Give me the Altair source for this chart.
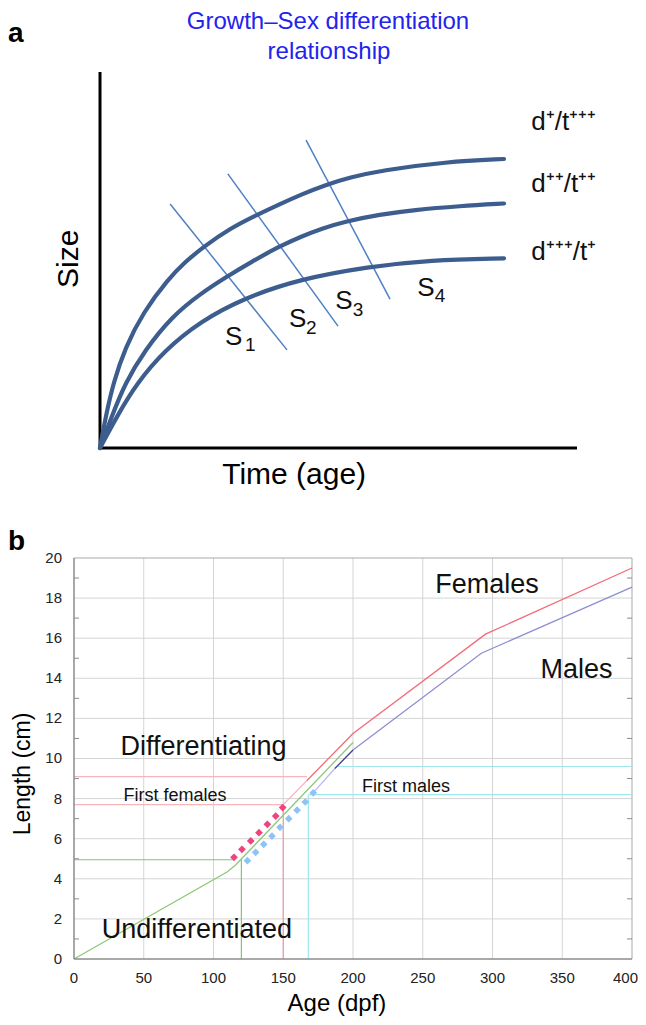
import altair as alt
import pandas as pd

# ================= Panel a : conceptual growth curves =================
curve_top_t = [0, 1.26, 2.79, 5.24, 9.08, 14.32, 17.82, 21.66, 27.25, 32.85, 37.74, 41.93, 47.17, 52.41,
               58.70, 72.68, 84.70]
curve_top_s = [0, 8.78, 17.29, 26.60, 36.17, 44.95, 49.47, 53.46, 58.38, 61.97, 64.89, 67.29, 69.95, 71.94,
               73.80, 76.14, 76.86]
curve_mid_t = [0, 2.45, 5.24, 9.43, 15.03, 20.96, 26.56, 31.87, 37.38, 41.93, 46.54, 51.36, 58.70, 65.68,
               75.47, 84.70]
curve_mid_s = [0, 8.32, 17.21, 26.06, 34.92, 40.96, 45.56, 49.60, 53.46, 56.12, 58.38, 60.24, 62.10, 63.30,
               64.36, 65.03]
curve_bot_t = [0, 3.50, 7.69, 13.63, 20.96, 30.04, 41.93, 56.25, 69.18, 84.70]
curve_bot_s = [0, 8.32, 17.21, 26.06, 33.59, 39.81, 44.95, 48.22, 50.00, 50.45]

sline_t1 = [14.7, 26.8, 43.2]
sline_s1 = [64.9, 72.9, 81.9]
sline_t2 = [39.2, 49.9, 60.8]
sline_s2 = [26.1, 32.4, 39.6]

curve_labels = ["d\u207a/t\u207a\u207a\u207a", "d\u207a\u207a/t\u207a\u207a", "d\u207a\u207a\u207a/t\u207a"]
curve_label_t = [90.4, 90.4, 90.4]
curve_label_s = [86.7, 70.2, 52.1]

s_names = ["S", "S", "S", "S"]
s_name_t = [26.2, 39.6, 49.3, 66.5]
s_name_s = [29.4, 34.4, 39.2, 42.6]
s_subs = ["1", "2", "3", "4"]
s_sub_t = [30.4, 43.2, 53.0, 70.2]
s_sub_s = [27.3, 32.0, 36.8, 40.5]

title_lines = ["Growth\u2013Sex  differentiation", "relationship"]
title_t = [47.8, 48.0]
title_s = [113.4, 105.4]

size_label_t, size_label_s = [-6.6], [50.3]
time_label_t, time_label_s = [40.7], [-7.2]
letter_a_t, letter_a_s = [-19.29], [108.0]

# ================= Panel b : measured growth =================
green_x = [0, 110, 116, 200]
green_y = [0, 4.35, 4.7, 10.8]
fem_early_x = [150, 167]
fem_early_y = [7.7, 8.9]
fem_x = [167, 200, 295, 400]
fem_y = [8.9, 11.25, 16.2, 19.5]
male_a_x = [171.5, 187]
male_a_y = [8.3, 9.5]
male_b_x = [187, 200]
male_b_y = [9.5, 10.42]
male_c_x = [200, 292, 400]
male_c_y = [10.42, 15.25, 18.55]

fem_dot_x = [114.7, 120.4, 126.7, 132.6, 138.6, 144.6, 149.6]
fem_dot_y = [5.07, 5.47, 5.89, 6.30, 6.72, 7.13, 7.55]
male_dot_x = [124.3, 130.2, 136.0, 141.9, 147.7, 153.9, 159.9, 165.8, 171.5]
male_dot_y = [4.90, 5.32, 5.72, 6.13, 6.57, 7.00, 7.42, 7.83, 8.29]

guide_x1 = [0, 0, 150, 0, 120, 189, 168, 168]
guide_x2 = [167, 150, 150, 114, 120, 400, 400, 168]
guide_y1 = [9.1, 7.7, 0, 4.95, 0, 9.6, 8.2, 0]
guide_y2 = [9.1, 7.7, 7.7, 4.95, 5.0, 9.6, 8.2, 8.2]
guide_col = ["#f6b4bc", "#f6b4bc", "#f39aa4", "#86c27a", "#86c27a", "#9fe6ee", "#9fe6ee", "#9fe6ee"]

big_text = ["Females", "Males", "Differentiating", "Undifferentiated"]
big_text_x = [296, 360.2, 92.8, 88.1]
big_text_y = [18.65, 14.41, 10.59, 1.45]
small_text = ["First females", "First males"]
small_text_x = [72.4, 238]
small_text_y = [8.13, 8.59]

x_ticks = [0, 50, 100, 150, 200, 250, 300, 350, 400]
y_ticks = [0, 2, 4, 6, 8, 10, 12, 14, 16, 18, 20]
minor_y = [1, 3, 5, 7, 9, 11, 13, 15, 17, 19]

x_title, x_title_x, x_title_y = ["Age (dpf)"], [188.5], [-2.244]
y_title, y_title_x, y_title_y = ["Length (cm)"], [-36.56], [9.23]
letter_b_x, letter_b_y = [-47.31], [21.5]

FONT = "Liberation Sans"
W, H = 630, 1009

# ---------- scales ----------
xa = alt.X("t:Q", scale=alt.Scale(domain=[-19.29, 112.79], nice=False, zero=False), axis=None)
ya = alt.Y("s:Q", scale=alt.Scale(domain=[-151.33, 117.02], nice=False, zero=False), axis=None)
xb = alt.X("x:Q", scale=alt.Scale(domain=[-47.31, 404.30], nice=False, zero=False), axis=None)
yb = alt.Y("y:Q", scale=alt.Scale(domain=[-2.893, 47.43], nice=False, zero=False), axis=None)

# ---------- panel a layers ----------
rows = []
for name, ts, ss in [("top", curve_top_t, curve_top_s), ("mid", curve_mid_t, curve_mid_s),
                     ("bot", curve_bot_t, curve_bot_s)]:
    for i, (t, s) in enumerate(zip(ts, ss)):
        rows.append({"curve": name, "i": i, "t": t, "s": s})
curve_df = pd.DataFrame(rows)

axes_df = pd.DataFrame({"t": [0, 0], "t2": [100, 0], "s": [0, 0], "s2": [0, 100]})
sline_df = pd.DataFrame({"t": sline_t1, "t2": sline_t2, "s": sline_s1, "s2": sline_s2})

a_axes = alt.Chart(axes_df).mark_rule(color="black", strokeWidth=3).encode(
    x=xa, x2="t2:Q", y=ya, y2="s2:Q")
a_slines = alt.Chart(sline_df).mark_rule(color="#4f80c4", strokeWidth=1.5).encode(
    x=xa, x2="t2:Q", y=ya, y2="s2:Q")
a_curves = alt.Chart(curve_df).mark_line(color="#3c5d8e", strokeWidth=4.2, interpolate="basis",
                                         strokeCap="round").encode(
    x=xa, y=ya, detail="curve:N", order="i:Q")


def text_a(labels, ts, ss, **kw):
    df = pd.DataFrame({"label": labels, "t": ts, "s": ss})
    return alt.Chart(df).mark_text(**kw).encode(x=xa, y=ya, text="label:N")


a_title = text_a(title_lines, title_t, title_s, fontSize=24, color="#2323ee", align="center",
                 baseline="middle")
a_letter = text_a(["a"], letter_a_t, letter_a_s, fontSize=28, fontWeight="bold", align="left",
                  baseline="alphabetic", color="black")
a_size = text_a(["Size"], size_label_t, size_label_s, fontSize=30, angle=270, align="center",
                baseline="middle", color="black")
a_time = text_a(["Time (age)"], time_label_t, time_label_s, fontSize=30, align="center",
                baseline="middle", color="black")
a_clabels = text_a(curve_labels, curve_label_t, curve_label_s, fontSize=26, align="left",
                   baseline="middle", color="#111")
a_snames = text_a(s_names, s_name_t, s_name_s, fontSize=26, align="left", baseline="middle", color="#111")
a_ssubs = text_a(s_subs, s_sub_t, s_sub_s, fontSize=19, align="left", baseline="middle", color="#111")

# ---------- panel b layers ----------
y_lo, y_hi = y_ticks[0], y_ticks[-1]
x_lo, x_hi = x_ticks[0], x_ticks[-1]

vgrid_df = pd.DataFrame({"x": x_ticks[1:-1], "y": y_lo, "y2": y_hi})
hgrid_df = pd.DataFrame({"y": y_ticks[1:-1], "x": x_lo, "x2": x_hi})
b_vgrid = alt.Chart(vgrid_df).mark_rule(color="#d4d4d4", strokeWidth=1).encode(x=xb, y=yb, y2="y2:Q")
b_hgrid = alt.Chart(hgrid_df).mark_rule(color="#d4d4d4", strokeWidth=1).encode(y=yb, x=xb, x2="x2:Q")

frame_df = pd.DataFrame({"x": [x_lo, x_hi], "x2": [x_hi, x_hi], "y": [y_hi, y_lo], "y2": [y_hi, y_hi]})
b_frame = alt.Chart(frame_df).mark_rule(color="#a8a8a8", strokeWidth=1).encode(
    x=xb, x2="x2:Q", y=yb, y2="y2:Q")
axis_df = pd.DataFrame({"x": [x_lo, x_lo], "x2": [x_hi, x_lo], "y": [y_lo, y_lo], "y2": [y_lo, y_hi]})
b_axis = alt.Chart(axis_df).mark_rule(color="#8c8c8c", strokeWidth=1.5).encode(
    x=xb, x2="x2:Q", y=yb, y2="y2:Q")

minor_l_df = pd.DataFrame({"y": minor_y, "x": x_lo})
minor_r_df = pd.DataFrame({"y": minor_y, "x": x_hi})
b_minor_l = alt.Chart(minor_l_df).mark_rule(color="#8c8c8c", strokeWidth=1, x2Offset=5).encode(
    x=xb, x2="x:Q", y=yb)
b_minor_r = alt.Chart(minor_r_df).mark_rule(color="#8c8c8c", strokeWidth=1, x2Offset=-5).encode(
    x=xb, x2="x:Q", y=yb)

xlab_df = pd.DataFrame({"x": x_ticks[:-1], "y": y_lo, "label": [str(v) for v in x_ticks[:-1]]})
xlab_last_df = pd.DataFrame({"x": x_ticks[-1:], "y": y_lo, "label": [str(v) for v in x_ticks[-1:]]})
ylab_df = pd.DataFrame({"y": y_ticks, "x": x_lo, "label": [str(v) for v in y_ticks]})
b_xlabels = alt.Chart(xlab_df).mark_text(fontSize=15, color="#222", align="center", baseline="middle",
                                         dy=19).encode(x=xb, y=yb, text="label:N")
b_xlabel_last = alt.Chart(xlab_last_df).mark_text(fontSize=15, color="#222", align="right",
                                                  baseline="middle", dy=19, dx=6).encode(
    x=xb, y=yb, text="label:N")
b_ylabels = alt.Chart(ylab_df).mark_text(fontSize=15, color="#222", align="right", baseline="middle",
                                         dx=-12).encode(x=xb, y=yb, text="label:N")


def text_b(labels, xs, ys, **kw):
    df = pd.DataFrame({"label": labels, "x": xs, "y": ys})
    return alt.Chart(df).mark_text(**kw).encode(x=xb, y=yb, text="label:N")


b_xtitle = text_b(x_title, x_title_x, x_title_y, fontSize=24, align="center", baseline="middle", color="black")
b_ytitle = text_b(y_title, y_title_x, y_title_y, fontSize=23, angle=270, align="center", baseline="middle",
                  color="black")
b_letter = text_b(["b"], letter_b_x, letter_b_y, fontSize=28, fontWeight="bold", align="left",
                  baseline="top", color="black")

guide_df = pd.DataFrame({"x": guide_x1, "x2": guide_x2, "y": guide_y1, "y2": guide_y2, "c": guide_col})
b_guides = alt.Chart(guide_df).mark_rule(strokeWidth=1.2).encode(
    x=xb, x2="x2:Q", y=yb, y2="y2:Q", color=alt.Color("c:N", scale=None))


def line_b(xs, ys, color, width=1.3):
    df = pd.DataFrame({"x": xs, "y": ys, "i": list(range(len(xs)))})
    return alt.Chart(df).mark_line(color=color, strokeWidth=width).encode(x=xb, y=yb, order="i:Q")


b_green = line_b(green_x, green_y, "#8cc878")
b_fem_early = line_b(fem_early_x, fem_early_y, "#f7b3c4")
b_fem = line_b(fem_x, fem_y, "#f36b78")
b_male_a = line_b(male_a_x, male_a_y, "#b9b9ea")
b_male_b = line_b(male_b_x, male_b_y, "#3c3c8c")
b_male_c = line_b(male_c_x, male_c_y, "#8e8ed0")

b_fdots = alt.Chart(pd.DataFrame({"x": fem_dot_x, "y": fem_dot_y})).mark_point(
    shape="diamond", filled=True, size=60, color="#f0437c", opacity=1).encode(x=xb, y=yb)
b_mdots = alt.Chart(pd.DataFrame({"x": male_dot_x, "y": male_dot_y})).mark_point(
    shape="diamond", filled=True, size=60, color="#8cc4f4", opacity=1).encode(x=xb, y=yb)

b_big = text_b(big_text, big_text_x, big_text_y, fontSize=27, align="center", baseline="middle", color="#111")
b_small = text_b(small_text, small_text_x, small_text_y, fontSize=18, align="center", baseline="middle",
                 color="#111")

chart = alt.layer(
    a_axes, a_slines, a_curves, a_title, a_letter, a_size, a_time, a_clabels, a_snames, a_ssubs,
    b_vgrid, b_hgrid, b_frame, b_minor_l, b_minor_r, b_guides, b_green, b_fem_early, b_fem,
    b_male_a, b_male_b, b_male_c, b_fdots, b_mdots, b_axis, b_xlabels, b_xlabel_last, b_ylabels,
    b_xtitle, b_ytitle, b_letter, b_big, b_small,
).resolve_scale(x="independent", y="independent").properties(
    width=W, height=H, padding=0, autosize=alt.AutoSizeParams(type="none"),
    view=alt.ViewBackground(stroke="transparent")
).configure(font=FONT)

chart.save("out.html", embed_options={"renderer": "svg", "actions": False})
